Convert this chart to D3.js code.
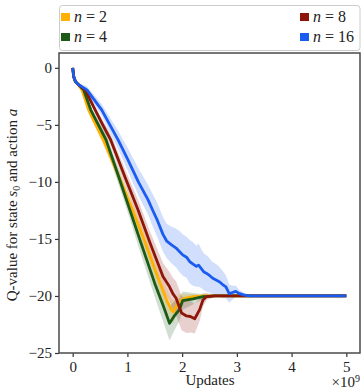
<!DOCTYPE html>
<html>
<head>
<meta charset="utf-8">
<script src="https://cdn.jsdelivr.net/npm/d3@7"></script>
<style>
  body { margin: 0; background: #fff; }
  text { font-family: "Liberation Serif", "DejaVu Serif", serif; }
</style>
</head>
<body>
<div id="chart"></div>
<script>
// curves (updates in units of 1e9)
var updatesN2 = [0, 0.02, 0.05, 0.1, 0.17, 0.29, 0.42, 0.56, 0.8, 1.1, 1.3, 1.55, 1.72, 1.8, 1.84, 1.88, 1.95, 2.05, 2.2, 2.4, 3.0, 4.0, 5.0];
var qN2 = [0, -0.8, -1.2, -1.45, -1.93, -3.68, -4.95, -6.32, -9.0, -12.5, -15.0, -18.3, -20.4, -21.2, -21.4, -21.0, -20.5, -20.2, -20.05, -20.0, -20.0, -20.0, -20.0];
var sdN2 = [0, 0.05, 0.1, 0.15, 0.2, 0.3, 0.4, 0.5, 0.6, 0.7, 0.8, 0.9, 1.0, 1.0, 1.0, 0.9, 0.7, 0.4, 0.2, 0.05, 0, 0, 0];

var updatesN4 = [0, 0.02, 0.05, 0.1, 0.2, 0.33, 0.47, 0.61, 0.83, 1.045, 1.23, 1.5, 1.65, 1.77, 1.85, 1.95, 2.01, 2.2, 2.38, 2.6, 3.0, 4.0, 5.0];
var qN4 = [0, -0.8, -1.2, -1.45, -1.93, -3.68, -5.0, -6.32, -9.4, -12.46, -15.1, -18.9, -20.8, -22.4, -21.8, -21.2, -20.4, -20.25, -20.06, -20.0, -20.0, -20.0, -20.0];
var sdN4 = [0, 0.05, 0.1, 0.15, 0.2, 0.3, 0.4, 0.5, 0.7, 0.8, 1.0, 1.2, 1.4, 1.5, 1.3, 1.0, 0.8, 0.5, 0.2, 0.05, 0, 0, 0];

var updatesN8 = [0, 0.02, 0.05, 0.1, 0.23, 0.41, 0.55, 0.695, 0.95, 1.195, 1.41, 1.65, 1.77, 1.83, 1.89, 1.99, 2.08, 2.15, 2.23, 2.32, 2.38, 2.45, 2.6, 3.0, 4.0, 5.0];
var qN8 = [0, -0.8, -1.2, -1.45, -1.93, -3.68, -5.0, -6.32, -9.5, -12.46, -15.3, -18.3, -19.2, -19.8, -20.2, -21.5, -21.75, -21.8, -22.0, -21.2, -20.35, -20.05, -20.0, -20.0, -20.0, -20.0];
var sdN8 = [0, 0.05, 0.1, 0.15, 0.2, 0.3, 0.4, 0.5, 0.7, 0.9, 1.0, 1.2, 1.3, 1.4, 1.5, 1.5, 1.5, 1.4, 1.3, 1.0, 0.6, 0.3, 0.1, 0, 0, 0];

var updatesN16 = [0, 0.02, 0.05, 0.1, 0.26, 0.53, 0.83, 1.01, 1.2, 1.38, 1.46, 1.55, 1.65, 1.72, 1.8, 1.89, 1.95, 2.01, 2.08, 2.14, 2.2, 2.26, 2.3, 2.35, 2.4, 2.44, 2.5, 2.56, 2.62, 2.68, 2.74, 2.8, 2.86, 2.92, 2.98, 3.05, 3.15, 3.25, 4.0, 5.0];
var qN16 = [0, -0.8, -1.2, -1.45, -1.93, -3.68, -6.32, -8.07, -10.0, -11.6, -12.46, -13.4, -14.6, -15.2, -15.5, -15.8, -16.1, -16.4, -16.6, -17.0, -17.2, -17.4, -17.3, -17.6, -17.9, -18.0, -18.2, -18.45, -18.6, -18.75, -19.0, -19.2, -19.8, -19.7, -19.6, -19.8, -19.95, -20.0, -20.0, -20.0];
var sdN16 = [0, 0.05, 0.1, 0.15, 0.3, 0.5, 0.8, 1.0, 1.2, 1.3, 1.4, 1.5, 1.5, 1.5, 1.6, 1.7, 1.8, 1.8, 1.8, 1.9, 1.9, 1.8, 1.9, 1.7, 1.6, 1.6, 1.5, 1.4, 1.4, 1.3, 1.2, 1.0, 0.8, 0.6, 0.5, 0.3, 0.2, 0.05, 0, 0];

var seriesNames = ["n = 2", "n = 4", "n = 8", "n = 16"];
var seriesColors = ["#ffb000", "#1b5a17", "#8c160a", "#1a5cf0"];
var xTicks = [0, 1, 2, 3, 4, 5];
var yTicks = [0, -5, -10, -15, -20, -25];

var allSeries = [
  {x: updatesN2, q: qN2, sd: sdN2},
  {x: updatesN4, q: qN4, sd: sdN4},
  {x: updatesN8, q: qN8, sd: sdN8},
  {x: updatesN16, q: qN16, sd: sdN16}
];

var W = 361, H = 389;
var mLeft = 59, mRight = 360, mTop = 53, mBottom = 353;

var svg = d3.select("#chart").append("svg").attr("width", W).attr("height", H);

var x = d3.scaleLinear().domain([-0.25, 5.25]).range([mLeft, mRight]);
var y = d3.scaleLinear().domain([-25, 1.3]).range([mBottom, mTop]);

var plot = svg.append("g");

allSeries.forEach(function(s, i){
  var pts = s.x.map(function(v, j){ return [v, s.q[j], s.sd[j]]; });
  var area = d3.area().x(function(d){ return x(d[0]); })
    .y0(function(d){ return y(d[1] - d[2]); })
    .y1(function(d){ return y(d[1] + d[2]); });
  plot.append("path").attr("d", area(pts)).attr("fill", seriesColors[i]).attr("fill-opacity", 0.2);
});

allSeries.forEach(function(s, i){
  var pts = s.x.map(function(v, j){ return [v, s.q[j]]; });
  var line = d3.line().x(function(d){ return x(d[0]); }).y(function(d){ return y(d[1]); });
  plot.append("path").attr("d", line(pts)).attr("fill", "none")
    .attr("stroke", seriesColors[i]).attr("stroke-width", 2.8).attr("stroke-linejoin", "round");
});

// axes
var xAxis = svg.append("g").attr("transform", "translate(0," + mBottom + ")")
  .call(d3.axisBottom(x).tickValues(xTicks).tickSize(4).tickPadding(4).tickFormat(d3.format("d")));
var yAxis = svg.append("g").attr("transform", "translate(" + mLeft + ",0)")
  .call(d3.axisLeft(y).tickValues(yTicks).tickSize(4).tickPadding(3).tickFormat(d3.format("d")));
[xAxis, yAxis].forEach(function(a){
  a.select(".domain").remove();
  a.selectAll(".tick line").attr("stroke", "#333").attr("stroke-width", 1.2);
  a.selectAll(".tick text").attr("font-family", "Liberation Serif").attr("font-size", "15px").attr("fill", "#222");
});

svg.append("rect").attr("x", mLeft).attr("y", mTop).attr("width", mRight - mLeft).attr("height", mBottom - mTop)
  .attr("fill", "none").attr("stroke", "#4a4a4a").attr("stroke-width", 1.5);

// axis labels
svg.append("text").attr("x", 210).attr("y", 385).attr("text-anchor", "middle")
  .attr("font-size", "15px").attr("fill", "#222").text("Updates");
var sci = svg.append("text").attr("x", 360).attr("y", 387).attr("text-anchor", "end")
  .attr("font-size", "15px").attr("fill", "#222");
sci.append("tspan").text("×10");
sci.append("tspan").attr("dy", -5).attr("font-size", "10px").text("9");

var yl = svg.append("text").attr("transform", "translate(17,205) rotate(-90)")
  .attr("text-anchor", "middle").attr("font-size", "15px").attr("fill", "#222");
yl.append("tspan").text("Q-value for state ");
yl.append("tspan").attr("font-style", "italic").text("s");
yl.append("tspan").attr("dy", 3).attr("font-size", "10px").text("0");
yl.append("tspan").attr("dy", -3).text(" and action ");
yl.append("tspan").attr("font-style", "italic").text("a");

// legend
svg.append("rect").attr("x", 59.5).attr("y", 5.5).attr("width", 300.5).attr("height", 45)
  .attr("rx", 3).attr("fill", "#fff").attr("stroke", "#cccccc").attr("stroke-width", 1);
var legPos = [[61, 13], [61, 33], [300, 13], [300, 33]];
seriesNames.forEach(function(name, i){
  var p = legPos[i];
  svg.append("rect").attr("x", p[0]).attr("y", p[1]).attr("width", 9).attr("height", 8).attr("fill", seriesColors[i]);
  var t = svg.append("text").attr("x", p[0] + 13).attr("y", p[1] + 9).attr("font-size", "16px").attr("fill", "#222");
  t.append("tspan").attr("font-style", "italic").text("n");
  t.append("tspan").attr("xml:space", "preserve").text(name.slice(1));
});
</script>
</body>
</html>
